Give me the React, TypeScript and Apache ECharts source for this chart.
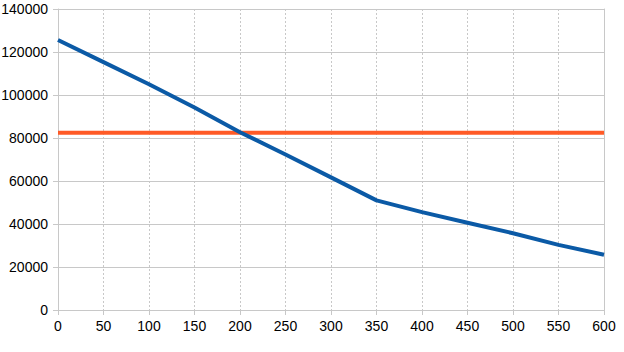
import React, { useEffect, useRef } from "react";
import * as echarts from "echarts";

const xValues = [0, 50, 100, 150, 200, 250, 300, 350, 400, 450, 500, 550, 600];
const costValues = [125600, 115300, 105000, 94200, 82700, 72300, 61700, 51000, 45500, 40600, 35700, 30300, 25700];
const levelX = [0, 600];
const levelValues = [82500, 82500];

export default function App() {
  const ref = useRef<HTMLDivElement>(null);
  useEffect(() => {
    if (!ref.current) return;
    const chart = echarts.init(ref.current, undefined, { renderer: "svg" });
    const grid = "#c8c8c8";
    const font = { fontFamily: "Liberation Sans", fontSize: 14, color: "#000" };
    chart.setOption({
      animation: false,
      backgroundColor: "#fff",
      grid: { left: 58, right: 20, top: 9, bottom: 42, containLabel: false, outerBoundsMode: "none" },
      xAxis: {
        type: "value",
        min: 0,
        max: 600,
        interval: 50,
        axisLine: { show: true, lineStyle: { color: grid, width: 1 } },
        axisTick: { show: true, length: 5, lineStyle: { color: grid } },
        axisLabel: { ...font, margin: 9, formatter: (v: number) => String(v) },
        splitLine: { show: true, lineStyle: { color: grid, type: [2, 2], width: 1 } },
      },
      yAxis: [
        {
          type: "value",
          min: 0,
          max: 140000,
          interval: 20000,
          axisLine: { show: true, lineStyle: { color: grid, width: 1 } },
          axisTick: { show: true, length: 5, lineStyle: { color: grid } },
          axisLabel: { ...font, margin: 10, formatter: (v: number) => String(v) },
          splitLine: { show: true, lineStyle: { color: grid, width: 1 } },
        },
        {
          type: "value",
          position: "right",
          min: 0,
          max: 140000,
          interval: 20000,
          axisLine: { show: true, lineStyle: { color: grid, width: 1 } },
          axisTick: { show: false },
          axisLabel: { show: false },
          splitLine: { show: false },
        },
      ],
      series: [
        {
          type: "line",
          data: xValues.map((x, i) => [x, costValues[i]]),
          showSymbol: false,
          symbol: "none",
          lineStyle: { color: "#0b5aa6", width: 4 },
          z: 3,
        },
        {
          type: "line",
          data: levelX.map((x, i) => [x, levelValues[i]]),
          showSymbol: false,
          symbol: "none",
          lineStyle: { color: "#ff5a26", width: 4 },
          z: 2,
        },
      ],
    });
    return () => chart.dispose();
  }, []);
  return <div ref={ref} style={{ width: 624, height: 352, position: "absolute", left: 0, top: 0 }} />;
}
